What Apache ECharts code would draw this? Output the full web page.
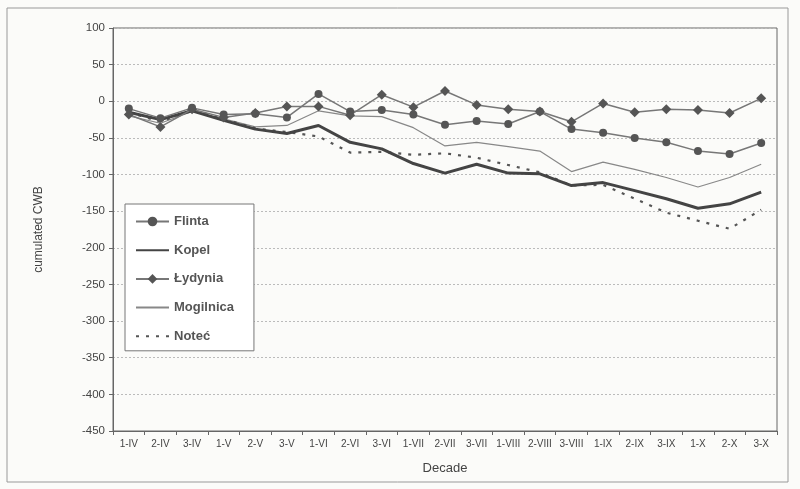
<!DOCTYPE html>
<html>
<head>
<meta charset="utf-8">
<script src="https://cdn.jsdelivr.net/npm/echarts@6/dist/echarts.min.js"></script>
<style>
html,body{margin:0;padding:0;background:#fbfbf9;}
#c{width:800px;height:489px;}
</style>
</head>
<body>
<div id="c"></div>
<script>
const categories = ['1-IV','2-IV','3-IV','1-V','2-V','3-V','1-VI','2-VI','3-VI','1-VII','2-VII','3-VII','1-VIII','2-VIII','3-VIII','1-IX','2-IX','3-IX','1-X','2-X','3-X'];
const flinta    = [-10, -23, -9, -18, -17, -22, 10, -14, -12, -18, -32, -27, -31, -14, -38, -43, -50, -56, -68, -72, -57];
const kopel     = [-15, -25, -13, -26, -38, -44, -33, -56, -65, -85, -98, -86, -98, -99, -115, -111, -122, -133, -146, -140, -124];
const lydynia   = [-18, -35, -11, -22, -16, -7, -7, -19, 9, -8, 14, -5, -11, -14, -28, -3, -15, -11, -12, -16, 4];
const mogilnica = [-20, -30, -14, -24, -35, -33, -13, -20, -21, -36, -61, -56, -62, -68, -96, -83, -93, -104, -117, -104, -86];
const notec     = [-15, -28, -12, -24, -37, -42, -48, -70, -69, -73, -71, -77, -87, -97, -115, -114, -133, -152, -163, -174, -148];
const yTicks = {min: -450, max: 100, interval: 50};

const chart = echarts.init(document.getElementById('c'));
const font = 'Liberation Sans, Arial, sans-serif';
chart.setOption({
  backgroundColor: '#fbfbf9',
  animation: false,
  graphic: [{
    type: 'rect', shape: {x: 7, y: 8, width: 781, height: 474},
    style: {fill: 'none', stroke: '#999', lineWidth: 1}, silent: true, z: -1
  }],
  grid: {left: 113, right: 23, top: 28, bottom: 58, show: true, borderColor: '#666', borderWidth: 1, backgroundColor: 'transparent'},
  legend: {
    orient: 'vertical', left: 125, top: 204,
    padding: [11, 20, 8, 10],
    backgroundColor: '#fff', borderColor: '#777', borderWidth: 1,
    itemWidth: 33, itemHeight: 12, itemGap: 15.7,
    textStyle: {fontFamily: font, fontSize: 13, fontWeight: 'bold', color: '#555'},
    data: [
      {name: 'Flinta'},
      {name: 'Kopel', itemStyle: {opacity: 0}},
      {name: 'Łydynia'},
      {name: 'Mogilnica', itemStyle: {opacity: 0}},
      {name: 'Noteć', itemStyle: {opacity: 0}}
    ]
  },
  xAxis: {
    type: 'category', data: categories, boundaryGap: true,
    name: 'Decade', nameLocation: 'middle', nameGap: 31,
    nameTextStyle: {fontFamily: font, fontSize: 13, color: '#444'},
    axisLine: {onZero: false, lineStyle: {color: '#666'}},
    axisTick: {show: true, length: 4, lineStyle: {color: '#666'}},
    axisLabel: {fontFamily: font, fontSize: 10, color: '#444', margin: 8, interval: 0}
  },
  yAxis: {
    type: 'value', min: yTicks.min, max: yTicks.max, interval: yTicks.interval,
    name: 'cumulated CWB', nameLocation: 'middle', nameGap: 68, nameRotate: 90,
    nameTextStyle: {fontFamily: font, fontSize: 12, color: '#444'},
    axisLine: {show: true, lineStyle: {color: '#666'}},
    axisTick: {show: true, length: 4, lineStyle: {color: '#666'}},
    axisLabel: {fontFamily: font, fontSize: 11.5, color: '#444', margin: 8},
    splitLine: {show: true, lineStyle: {color: '#bbb', type: [2, 2], width: 1}}
  },
  series: [
    {name: 'Flinta', type: 'line', data: flinta, symbol: 'circle', symbolSize: 8,
     lineStyle: {color: '#777', width: 1.5}, itemStyle: {color: '#555'}, z: 5},
    {name: 'Kopel', type: 'line', data: kopel, symbol: 'none', showSymbol: false,
     lineStyle: {color: '#444', width: 3}, itemStyle: {color: '#444'}, z: 4},
    {name: 'Łydynia', type: 'line', data: lydynia, symbol: 'diamond', symbolSize: 10,
     lineStyle: {color: '#777', width: 1.5}, itemStyle: {color: '#555'}, z: 5},
    {name: 'Mogilnica', type: 'line', data: mogilnica, symbol: 'none', showSymbol: false,
     lineStyle: {color: '#888', width: 1.2}, itemStyle: {color: '#888'}, z: 3},
    {name: 'Noteć', type: 'line', data: notec, symbol: 'none', showSymbol: false,
     lineStyle: {color: '#555', width: 2.2, type: [3, 7]}, itemStyle: {color: '#555'}, z: 3}
  ]
});
</script>
</body>
</html>
